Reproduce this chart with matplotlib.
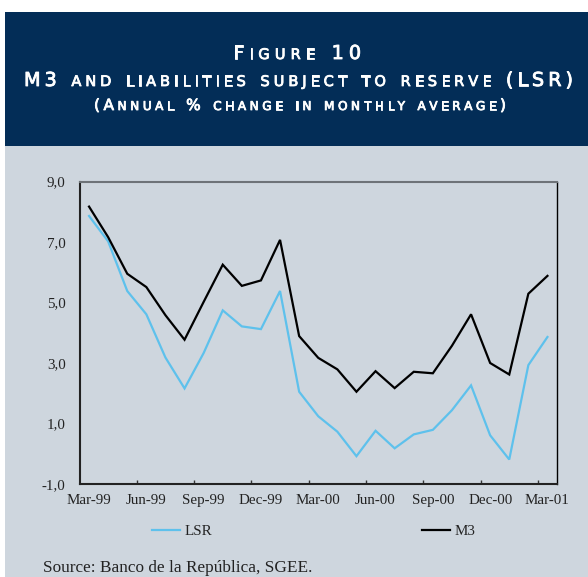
import matplotlib
matplotlib.use('Agg')
import matplotlib.pyplot as plt
import matplotlib.patheffects as pe
from matplotlib.patches import Rectangle
from matplotlib.ticker import FixedLocator, FuncFormatter

# ---------------- data ----------------
months = ['Mar-99', 'Apr-99', 'May-99', 'Jun-99', 'Jul-99', 'Aug-99', 'Sep-99',
          'Oct-99', 'Nov-99', 'Dec-99', 'Jan-00', 'Feb-00', 'Mar-00', 'Apr-00',
          'May-00', 'Jun-00', 'Jul-00', 'Aug-00', 'Sep-00', 'Oct-00', 'Nov-00',
          'Dec-00', 'Jan-01', 'Feb-01', 'Mar-01']
m3 = [8.17, 7.16, 5.95, 5.51, 4.58, 3.77, 5.02, 6.25, 5.55, 5.73, 7.07, 3.89,
      3.17, 2.79, 2.05, 2.73, 2.17, 2.71, 2.66, 3.57, 4.61, 3.00, 2.62, 5.29, 5.88]
lsr = [7.86, 7.02, 5.38, 4.61, 3.18, 2.16, 3.33, 4.74, 4.21, 4.12, 5.38, 2.05,
       1.24, 0.73, -0.08, 0.76, 0.18, 0.64, 0.79, 1.44, 2.26, 0.61, -0.19, 2.93, 3.86]
yticks = [-1, 1, 3, 5, 7, 9]
title1 = 'Figure 10'
title2 = 'M3 and liabilities subject to reserve (LSR)'
title3 = '(Annual % change in monthly average)'
source = 'Source: Banco de la República, SGEE.'

# ---------------- figure ----------------
W, H = 588, 577
DPI = 100
fig = plt.figure(figsize=(W / DPI, H / DPI), dpi=DPI, facecolor='white')

NAVY = '#032D57'
GRAY = '#CED6DE'
BLUE = '#5EC1EC'


def fx(px):
    return px / W


def fy(py):
    return 1 - py / H


fig.add_artist(Rectangle((fx(5), fy(146)), fx(W) - fx(5), fy(12) - fy(146),
                         transform=fig.transFigure, facecolor=NAVY,
                         edgecolor='none', zorder=-10))
fig.add_artist(Rectangle((fx(5), 0), fx(W) - fx(5), fy(146),
                         transform=fig.transFigure, facecolor=GRAY,
                         edgecolor='none', zorder=-10))

renderer = fig.canvas.get_renderer()
TFAM = 'DejaVu Sans'
TWEIGHT = 'normal'
CAP = 0.729  # cap-height / em for DejaVu Sans
_wcache = {}
THICK = [pe.withStroke(linewidth=0.6, foreground='white')]


def text_w(s, size):
    key = (s, size)
    if key not in _wcache:
        t = fig.text(0, 0, s, fontsize=size, family=TFAM, weight=TWEIGHT)
        _wcache[key] = t.get_window_extent(renderer).width
        t.remove()
    return _wcache[key]


def smallcaps(s, xc, base, target_w, cap_big, cap_small):
    # sizes in points from desired cap heights in pixels
    big = cap_big / CAP * 72 / DPI
    small = cap_small / CAP * 72 / DPI
    glyphs = []
    for ch in s:
        if ch == ' ':
            glyphs.append((None, small, small * DPI / 72 * 0.45))
        else:
            size = small if ch.islower() else big
            c = ch.upper()
            glyphs.append((c, size, text_w(c, size)))
    total = sum(g[2] for g in glyphs)
    gap = (target_w - total) / (len(glyphs) - 1)
    x = xc - target_w / 2
    for c, size, w in glyphs:
        if c is not None:
            fig.text(fx(x), fy(base), c, fontsize=size, family=TFAM,
                     weight=TWEIGHT, color='white', ha='left', va='baseline',
                     path_effects=THICK)
        x += w + gap


smallcaps(title1, 297, 59, 128, 14.0, 10.6)
smallcaps(title2, 298.5, 86, 549, 14.0, 10.6)
smallcaps(title3, 300, 110, 412, 11.2, 8.8)

# ---------------- axes ----------------
L, R, T, B = 79.5, 557, 181.5, 484
ax = fig.add_axes([fx(L), fy(B), (R - L) / W, (B - T) / H])
ax.set_facecolor(GRAY)

x = list(range(len(months)))
l1, = ax.plot(x, lsr, color=BLUE, lw=1.6, label='LSR', solid_joinstyle='miter')
l2, = ax.plot(x, m3, color='black', lw=1.6, label='M3', solid_joinstyle='miter')

ax.set_xlim(-0.5, len(months) - 0.5)
ax.set_ylim(-1, 9)

# boundary tick marks every 3 months, labels centred on categories
ax.xaxis.set_major_locator(FixedLocator([i + 2.5 for i in range(0, len(months) - 3, 3)]))
ax.xaxis.set_major_formatter(FuncFormatter(lambda v, p: ''))
ax.xaxis.set_minor_locator(FixedLocator(list(range(0, len(months), 3))))
ax.xaxis.set_minor_formatter(FuncFormatter(lambda v, p: months[int(round(v))]))
ax.tick_params(axis='x', which='major', direction='in', length=3, width=1, color='#333333')
ax.tick_params(axis='x', which='minor', length=0, pad=7, labelsize=10.8,
               labelcolor='#222222')

ax.set_yticks(yticks)
ax.yaxis.set_major_formatter(FuncFormatter(lambda v, p: f'{v:.1f}'.replace('.', ',')))
ax.tick_params(axis='y', length=0, pad=10, labelsize=10.8, labelcolor='#222222')

for lab in ax.get_xticklabels(minor=True) + ax.get_yticklabels():
    lab.set_family('Liberation Serif')

ax.spines['left'].set_color('#222222')
ax.spines['left'].set_linewidth(1.5)
ax.spines['bottom'].set_color('#222222')
ax.spines['bottom'].set_linewidth(1.5)
ax.spines['top'].set_color('#6E7378')
ax.spines['top'].set_linewidth(1.5)
ax.spines['right'].set_color('black')
ax.spines['right'].set_linewidth(1.0)

leg = fig.legend(handles=[l1, l2], loc='center left',
                 bbox_to_anchor=(fx(152), fy(531)), ncol=2, frameon=False,
                 prop={'family': 'Liberation Serif', 'size': 10.8},
                 handlelength=1.85, handletextpad=0.3, columnspacing=14.0,
                 borderpad=0, borderaxespad=0)
for t in leg.get_texts():
    t.set_color('#222222')

fig.text(fx(43), fy(572), source, family='Liberation Serif', fontsize=12.4,
         color='#222222', ha='left', va='baseline')

fig.savefig('out.png', dpi=DPI, facecolor='white')
